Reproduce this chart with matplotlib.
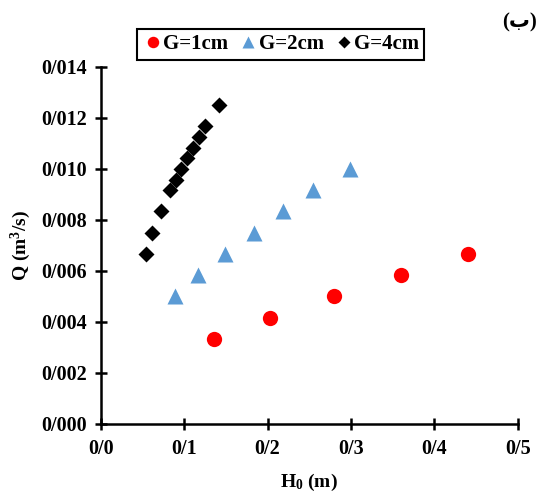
import matplotlib
matplotlib.use('Agg')
import matplotlib.pyplot as plt

# G = 1 cm
h_g1 = [0.136, 0.2035, 0.28, 0.36, 0.44]
q_g1 = [0.00333, 0.00417, 0.005, 0.00583, 0.00667]

# G = 2 cm
h_g2 = [0.089, 0.117, 0.149, 0.184, 0.218, 0.255, 0.299]
q_g2 = [0.005, 0.00583, 0.00667, 0.0075, 0.00833, 0.00917, 0.01]

# G = 4 cm
h_g4 = [0.0543, 0.0619, 0.0719, 0.0835, 0.0903, 0.0967, 0.1035, 0.1107, 0.1179, 0.1247, 0.1415]
q_g4 = [0.00667, 0.0075, 0.00833, 0.00917, 0.00958, 0.01, 0.01042, 0.01083, 0.01125, 0.01167, 0.0125]

x_ticks = [0.0, 0.1, 0.2, 0.3, 0.4, 0.5]
x_labels = ['0/0', '0/1', '0/2', '0/3', '0/4', '0/5']
y_ticks = [0.0, 0.002, 0.004, 0.006, 0.008, 0.010, 0.012, 0.014]
y_labels = ['0/000', '0/002', '0/004', '0/006', '0/008', '0/010', '0/012', '0/014']

plt.rcParams['font.family'] = ['Liberation Serif', 'DejaVu Sans']
plt.rcParams['font.weight'] = 'bold'
plt.rcParams['mathtext.fontset'] = 'custom'
plt.rcParams['mathtext.rm'] = 'Liberation Serif:bold'
plt.rcParams['mathtext.it'] = 'Liberation Serif:bold'
plt.rcParams['mathtext.bf'] = 'Liberation Serif:bold'
plt.rcParams['mathtext.default'] = 'rm'

fig = plt.figure(figsize=(5.4, 4.93), dpi=100)
ax = fig.add_axes([0.1865, 0.14, 0.7722, 0.7247])

ax.plot(h_g1, q_g1, 'o', color='#FF0000', ms=11, mec='none', label='G=1cm')
ax.plot(h_g2, q_g2, '^', color='#5B9BD5', ms=11, mec='none', label='G=2cm')
ax.plot(h_g4, q_g4, 'D', color='black', ms=8, mec='none', label='G=4cm')

ax.set_xlim(0, 0.5)
ax.set_ylim(0, 0.014)
ax.set_xticks(x_ticks)
ax.set_xticklabels(x_labels)
ax.set_yticks(y_ticks)
ax.set_yticklabels(y_labels)
ax.tick_params(direction='inout', length=8, width=1.8, labelsize=14.5)
ax.tick_params(axis='x', pad=7)
ax.tick_params(axis='y', pad=6)

for side in ['top', 'right']:
    ax.spines[side].set_visible(False)
for side in ['left', 'bottom']:
    ax.spines[side].set_linewidth(1.8)

ax.set_xlabel('H$_0$ (m)', fontsize=14, fontweight='bold', labelpad=9)
ax.set_ylabel('Q (m$^3$/s)', fontsize=14, fontweight='bold', labelpad=6)

leg = fig.legend(loc='center', bbox_to_anchor=(0.52, 0.91), ncol=3, fontsize=15,
                 frameon=True, fancybox=False, edgecolor='black', framealpha=1,
                 handletextpad=0.0, columnspacing=0.45, borderpad=0.25,
                 handlelength=1.0, markerscale=0.75)
leg.get_frame().set_linewidth(1.5)

fig.text(0.995, 0.955, '(ب)', ha='right', va='center', fontsize=15)

fig.savefig('out.png', dpi=100)
